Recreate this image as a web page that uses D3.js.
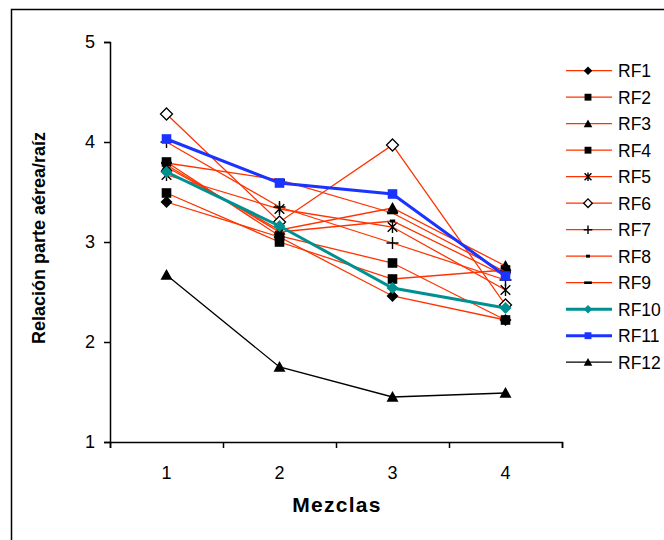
<!DOCTYPE html>
<html>
<head>
<meta charset="utf-8">
<script src="https://cdn.jsdelivr.net/npm/d3@7"></script>
<style>
  body { margin: 0; background: #fff; }
  svg { display: block; font-family: "Liberation Sans", Arial, sans-serif; }
</style>
</head>
<body>
<svg class="graph"></svg>
<script>
// values
const mezclas = [1, 2, 3, 4];
const yTicks = [1, 2, 3, 4, 5];
const series = ["RF1", "RF2", "RF3", "RF4", "RF5", "RF6", "RF7", "RF8", "RF9", "RF10", "RF11", "RF12"];
const RF1 = [3.40, 3.05, 2.46, 2.22];
const RF2 = [3.49, 3.00, 2.63, 2.72];
const RF3 = [3.75, 3.12, 3.34, 2.76];
const RF4 = [3.80, 3.06, 2.79, 2.22];
const RF5 = [3.67, 3.33, 3.15, 2.52];
const RF6 = [4.28, 3.20, 3.97, 2.37];
const RF7 = [4.00, 3.35, 2.99, 2.62];
const RF8 = [3.77, 3.10, 3.21, 2.66];
const RF9 = [3.79, 3.62, 3.29, 2.70];
const RF10 = [3.70, 3.16, 2.54, 2.34];
const RF11 = [4.03, 3.59, 3.48, 2.66];
const RF12 = [2.67, 1.75, 1.45, 1.49];
const values = [RF1, RF2, RF3, RF4, RF5, RF6, RF7, RF8, RF9, RF10, RF11, RF12];

const red = "#ff3300";
const styles = [
  { color: red, width: 1.3, marker: "diamond" },
  { color: red, width: 1.3, marker: "square" },
  { color: red, width: 1.3, marker: "triangle" },
  { color: red, width: 1.3, marker: "square" },
  { color: red, width: 1.3, marker: "star" },
  { color: red, width: 1.3, marker: "odiamond" },
  { color: red, width: 1.3, marker: "plus" },
  { color: red, width: 1.3, marker: "sdash" },
  { color: red, width: 1.3, marker: "ldash" },
  { color: "#009090", width: 3, marker: "diamond", fill: "#009090" },
  { color: "#1a33ff", width: 3, marker: "square", fill: "#1a33ff" },
  { color: "#000", width: 1.3, marker: "triangle" }
];

const width = 664, height = 540;
const svg = d3.select(".graph").attr("width", width).attr("height", height);

// outer frame (runs off the right and bottom edge)
svg.append("rect")
  .attr("x", 11.5).attr("y", 9.5)
  .attr("width", 720).attr("height", 600)
  .attr("fill", "none").attr("stroke", "#000").attr("stroke-width", 1.5);

const x = d3.scaleLinear().domain([0.5, 4.5]).range([110, 562]);
const y = d3.scaleLinear().domain([1, 5]).range([442, 42]);

// y axis
const yAxis = svg.append("g")
  .attr("transform", "translate(110,0)")
  .call(d3.axisLeft(y).tickValues(yTicks).tickSize(6).tickPadding(9).tickFormat(d3.format("d")));
// x axis, ticks at category borders
const xAxis = svg.append("g")
  .attr("transform", "translate(0,442)")
  .call(d3.axisBottom(x).tickValues([0.5, 1.5, 2.5, 3.5, 4.5]).tickSize(6).tickFormat(""));
[yAxis, xAxis].forEach(a => {
  a.select(".domain").attr("stroke-width", 1.5);
  a.selectAll(".tick line").attr("stroke-width", 1.5);
  a.selectAll("text").attr("font-size", 18).attr("font-family", "Liberation Sans, Arial, sans-serif");
});

svg.selectAll(".xlab")
  .data(mezclas)
  .enter()
  .append("text")
  .attr("x", d => x(d))
  .attr("y", 479)
  .attr("text-anchor", "middle")
  .attr("font-size", 18)
  .text(d => d);

svg.append("text")
  .attr("x", 337).attr("y", 512)
  .attr("text-anchor", "middle")
  .attr("font-size", 21).attr("font-weight", "bold")
  .attr("letter-spacing", 1.3)
  .text("Mezclas");

svg.append("text")
  .attr("transform", "translate(45,238) rotate(-90)")
  .attr("text-anchor", "middle")
  .attr("font-size", 18).attr("font-weight", "bold")
  .text("Relación parte aérea/raíz");

// marker shapes, s = half size
function markerPath(type, s) {
  switch (type) {
    case "diamond":
    case "odiamond":
      return `M0,${-s}L${s},0L0,${s}L${-s},0Z`;
    case "square":
      return `M${-s * 0.8},${-s * 0.8}h${s * 1.6}v${s * 1.6}h${-s * 1.6}Z`;
    case "triangle":
      return `M0,${-s}L${s},${s * 0.8}L${-s},${s * 0.8}Z`;
    case "star":
      return `M${-s * 0.8},${-s * 0.8}L${s * 0.8},${s * 0.8}M${-s * 0.8},${s * 0.8}L${s * 0.8},${-s * 0.8}M0,${-s}V${s}`;
    case "plus":
      return `M${-s},0H${s}M0,${-s}V${s}`;
    case "sdash":
      return `M${-s * 0.45},-1.5h${s * 0.9}v3h${-s * 0.9}Z`;
    case "ldash":
      return `M${-s * 0.9},-1.3h${s * 1.8}v2.6h${-s * 1.8}Z`;
  }
}
function drawMarker(g, st, s) {
  const p = g.append("path").attr("d", markerPath(st.marker, s));
  if (st.marker === "odiamond") {
    p.attr("fill", "#fff").attr("stroke", "#000").attr("stroke-width", 1.3);
  } else if (st.marker === "star" || st.marker === "plus") {
    p.attr("fill", "none").attr("stroke", "#000").attr("stroke-width", 1.4);
  } else {
    p.attr("fill", st.fill || "#000");
  }
}

const line = d3.line().x((d, i) => x(mezclas[i])).y(d => y(d));

values.forEach((vals, k) => {
  const st = styles[k];
  const g = svg.append("g");
  g.append("path")
    .attr("d", line(vals))
    .attr("fill", "none")
    .attr("stroke", st.color)
    .attr("stroke-width", st.width);
  vals.forEach((v, i) => {
    const m = g.append("g").attr("transform", `translate(${x(mezclas[i])},${y(v)})`);
    drawMarker(m, st, 6);
  });
});

// legend
const legend = svg.append("g");
series.forEach((name, k) => {
  const st = styles[k];
  const ly = 70.7 + k * 26.5;
  const row = legend.append("g").attr("transform", `translate(0,${ly})`);
  row.append("line")
    .attr("x1", 566).attr("x2", 612)
    .attr("stroke", st.color)
    .attr("stroke-width", st.width === 3 ? 3 : 1.3);
  const m = row.append("g").attr("transform", "translate(588,0)");
  drawMarker(m, st, 4.3);
  row.append("text")
    .attr("x", 618).attr("y", 0)
    .attr("dy", "0.36em")
    .attr("font-size", 17.5)
    .text(name);
});
</script>
</body>
</html>
